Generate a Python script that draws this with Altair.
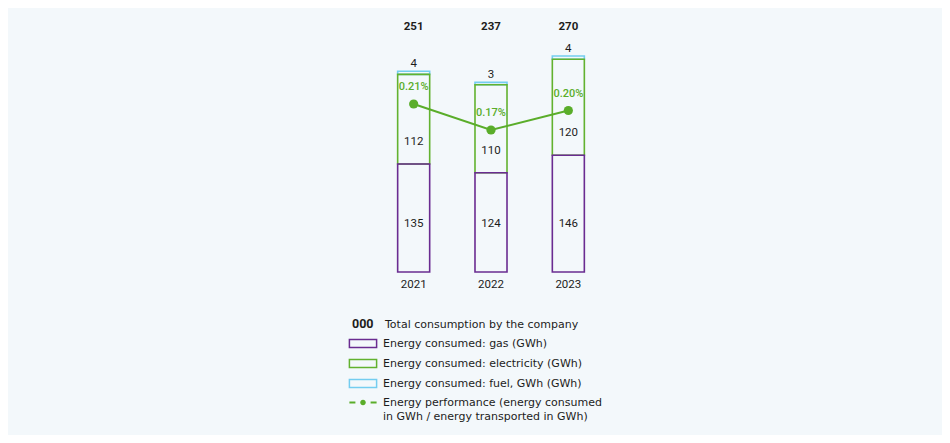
import altair as alt
import pandas as pd

# ---------------- data ----------------
years = ["2021", "2022", "2023"]
gas = [135, 124, 146]
electricity = [112, 110, 120]
fuel = [4, 3, 4]
totals = [251, 237, 270]
performance = [0.21, 0.17, 0.20]
perf_labels = ["0.21%", "0.17%", "0.20%"]

series_names = [
    "Energy consumed: gas (GWh)",
    "Energy consumed: electricity (GWh)",
    "Energy consumed: fuel, GWh (GWh)",
]
series_colors = ["#6a2c91", "#62b22f", "#74cdf0"]
total_name = "Total consumption by the company"
total_symbol = "000"
perf_name = "Energy performance (energy consumed in GWh / energy transported in GWh)"
perf_lines = ["Energy performance (energy consumed", "in GWh / energy transported in GWh)"]
perf_color = "#5aad2a"
bg = "#f3f8fb"
ink = "#1d1d1b"
FONT = "Roboto"
LFONT = "DejaVu Sans"
FS = 11.5
LFS = 11

# ---------------- tables ----------------
rows = []
for i, y in enumerate(years):
    start = 0
    for name, vals in zip(series_names, [gas, electricity, fuel]):
        rows.append(dict(year=y, series=name, value=vals[i], start=start, end=start + vals[i]))
        start += vals[i]
seg_df = pd.DataFrame(rows)
# drawing order: fuel, electricity, gas (so lower segment edges sit on top)
order_map = {series_names[2]: 0, series_names[1]: 1, series_names[0]: 2}
seg_df["draw"] = seg_df["series"].map(order_map)
seg_df = seg_df.sort_values(["draw", "year"]).reset_index(drop=True)

tot_df = pd.DataFrame({"year": years, "total": totals, "name": total_name})
perf_df = pd.DataFrame({"year": years, "perf": performance, "label": perf_labels, "name": perf_name})

# ---------------- scales ----------------
xs = alt.Scale(domain=years, paddingInner=0.586, paddingOuter=0.293)
ys = alt.Scale(domain=[0, 330])
ps = alt.Scale(domain=[0, 0.35], range=[232.5, 5])

x_axis = alt.Axis(title=None, labelAngle=0, ticks=False, domain=False, labelPadding=6,
                  labelFontSize=FS, labelColor=ink, labelFontWeight="normal", labelFont=FONT)
X = alt.X("year:N", scale=xs, axis=x_axis)

rect_path = "M-3.4,-1H3.4V1H-3.4Z"
dot_path = ("M-3.4,-0.25H-1.9V0.25H-3.4Z "
            "M-0.7,0A0.7,0.7 0 1,0 0.7,0A0.7,0.7 0 1,0 -0.7,0Z "
            "M1.9,-0.25H3.4V0.25H1.9Z")

bars = alt.Chart(seg_df).mark_bar(fill="transparent", strokeWidth=1.6).encode(
    x=X,
    y=alt.Y("end:Q", scale=ys, axis=None),
    y2="start:Q",
    stroke=alt.Stroke(
        "series:N",
        scale=alt.Scale(domain=series_names, range=series_colors),
        legend=alt.Legend(
            title=None, orient="none", legendX=-17.5, legendY=330, direction="vertical",
            symbolType=rect_path, symbolSize=64, symbolStrokeWidth=1.5,
            symbolFillColor="transparent", labelFont=LFONT, labelFontSize=LFS,
            labelColor=ink, labelOffset=14.5, rowPadding=5, padding=0, labelLimit=400,
            gridAlign="all",
        ),
    ),
    order=alt.Order("draw:Q"),
)

def seg_label(series, field, dy):
    return alt.Chart(seg_df).transform_filter(alt.datum.series == series).mark_text(
        dy=dy, fontSize=FS, font=FONT, color=ink, baseline="middle"
    ).encode(x=X, y=alt.Y(f"{field}:Q", scale=ys, axis=None), text="value:Q")

gas_lbl = seg_label(series_names[0], "start", -48)
elec_lbl = seg_label(series_names[1], "start", -22)
fuel_lbl = seg_label(series_names[2], "end", -7)

tot_lbl = alt.Chart(tot_df).mark_text(fontSize=FS, font=FONT, fontWeight="bold", baseline="middle").encode(
    x=X,
    y=alt.YDatum(306, scale=ys, axis=None),
    text="total:Q",
    fill=alt.Fill(
        "name:N",
        scale=alt.Scale(domain=[total_name], range=[ink]),
        legend=alt.Legend(
            title=total_symbol, titleOrient="left", titleFont=FONT, titleFontSize=12.5,
            titleFontWeight="bold", titleColor=ink, titlePadding=0,
            orient="none", legendX=-23, legendY=311, symbolOpacity=0, symbolSize=1,
            labelFont=LFONT, labelFontSize=LFS, labelColor=ink, labelOffset=0, padding=0,
            labelLimit=400,
        ),
    ),
)

line = alt.Chart(perf_df).mark_line(color=perf_color, strokeWidth=2).encode(
    x=X, y=alt.Y("perf:Q", scale=ps, axis=None)
)

points = alt.Chart(perf_df).mark_point(filled=True, size=85, opacity=1).encode(
    x=X,
    y=alt.Y("perf:Q", scale=ps, axis=None),
    color=alt.Color(
        "name:N",
        scale=alt.Scale(domain=[perf_name], range=[perf_color]),
        legend=alt.Legend(
            title=None, orient="none", legendX=-17.5, legendY=389,
            symbolType=dot_path, symbolSize=64, symbolStrokeWidth=0,
            symbolFillColor=perf_color, labelFont=LFONT, labelFontSize=LFS,
            labelColor=ink, labelOffset=14.5, padding=0, labelLimit=400,
            labelExpr=f"datum.label == '{perf_name}' ? {perf_lines} : datum.label",
        ),
    ),
)

pct = alt.Chart(perf_df).mark_text(dy=-17, fontSize=11, font=FONT, fontWeight=500, color=perf_color).encode(
    x=X, y=alt.Y("perf:Q", scale=ps, axis=None), text="label:N"
)

chart = alt.layer(bars, gas_lbl, elec_lbl, fuel_lbl, tot_lbl, line, points, pct).resolve_scale(
    y="independent"
).properties(
    width=232,
    height=264,
    padding={"left": 367, "top": 0, "right": 335, "bottom": 163},
    autosize=alt.AutoSizeParams(type="none"),
    background=bg,
).configure(
    view=alt.ViewConfig(stroke=None),
    style={"guide-label": {"lineHeight": 14}},
)

chart.save("out.html", embed_options={"renderer": "svg", "actions": False})
